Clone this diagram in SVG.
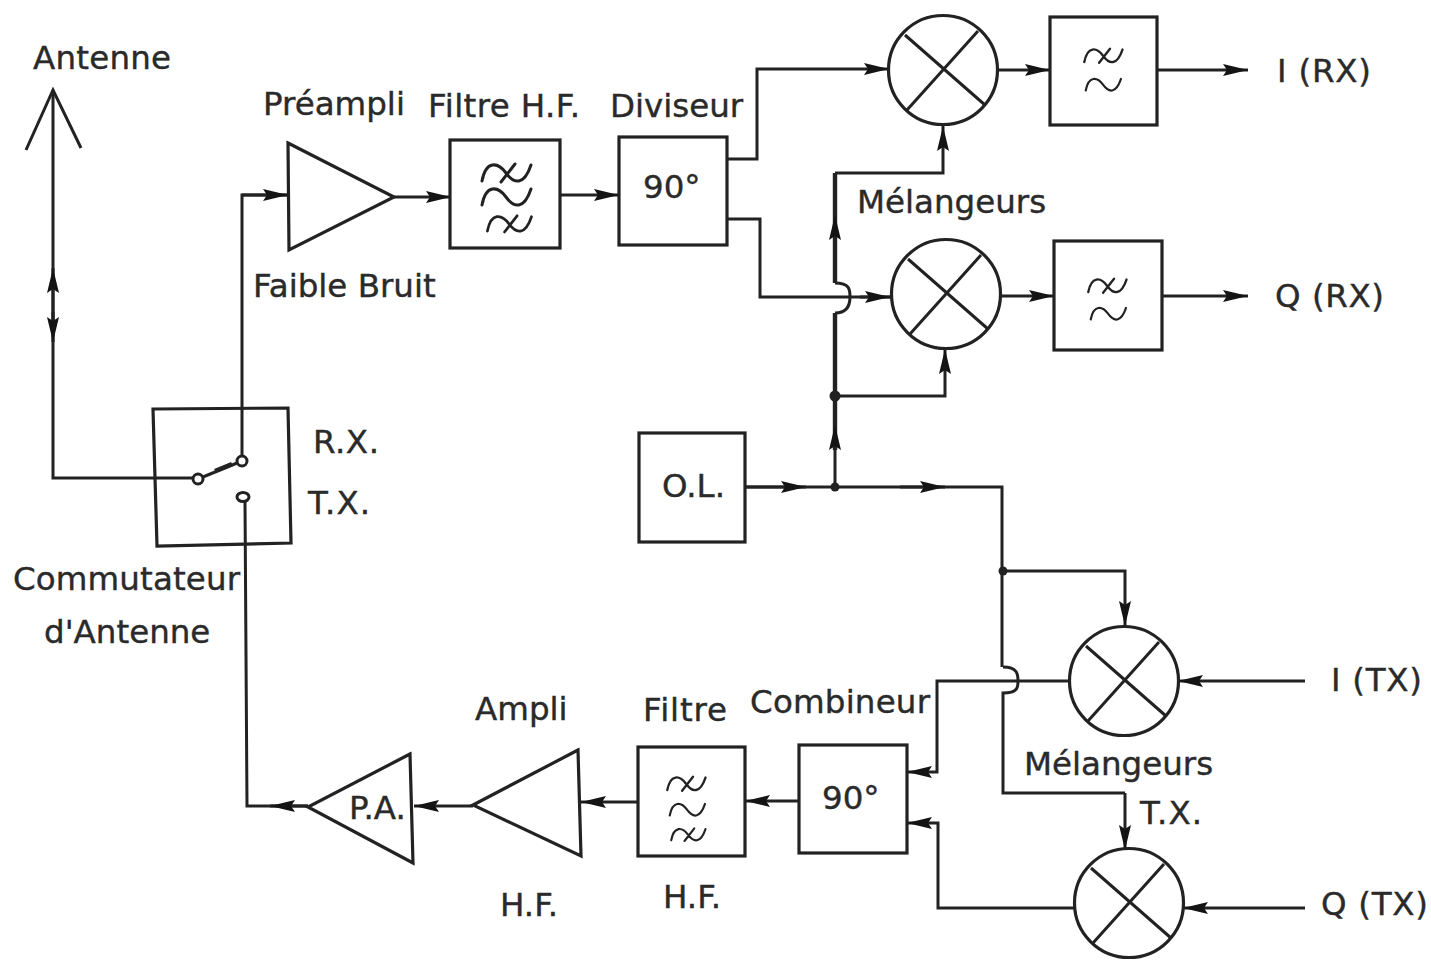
<svg xmlns="http://www.w3.org/2000/svg" width="1431" height="964" viewBox="0 0 1431 964">
<style>
text{font-family:"DejaVu Sans",sans-serif;font-size:32.5px;fill:#2a2a2a;stroke:#2a2a2a;stroke-width:.4px}
.b{fill:#fff;stroke:#222;stroke-width:3.2;stroke-linejoin:miter}
.n{fill:none;stroke:#222;stroke-width:3.2}
.l{fill:none;stroke:#222;stroke-width:3;stroke-linejoin:miter}
.t{stroke-width:4.4}
.a{marker-end:url(#ah)}
.w{fill:none;stroke:#222;stroke-width:3;stroke-linecap:round}
.x{fill:none;stroke:#222;stroke-width:3}
.d{fill:#222}
.c{fill:#fff;stroke:#222;stroke-width:3}
</style>
<defs>
<marker id="ah" markerUnits="userSpaceOnUse" markerWidth="30" markerHeight="18" refX="25" refY="9" orient="auto"><path d="M0 3 L25 9 L0 15 L4 9 Z" fill="#141414"/></marker>
<g id="wv"><path class="w" d="M-24 9 C-20 -12 -8 -10 0 1 S18 14 25 -7"/></g>
<g id="wvs"><path class="w" d="M-24 9 C-20 -12 -8 -10 0 1 S18 14 25 -7 M-5 10 L9 -8"/></g>
<g id="mix"><circle class="b" r="54.5"/><path class="x" d="M-38 -35 L42 35 M-36 40 L35 -39"/></g>
</defs>
<rect width="1431" height="964" fill="#fff"/>

<g id="connectors">
<path class="l" d="M26 150 L53 90 L81 148"/>
<path class="l" d="M53 90 V478 H198"/>
<path class="l a" d="M53 320 V268"/>
<path class="l a" d="M53 312 V342"/>
<path class="l" d="M242 457 V195 H288"/>
<path class="l a" d="M242 195 H288"/>
<path class="l" d="M245 502 L247 806 H308"/>
<path class="l a" d="M308 806 H270"/>
<path class="l a" d="M394 197 H451"/>
<path class="l a" d="M560 195 H619"/>
<path class="l a" d="M727 159 H757 V69 H889"/>
<path class="l" d="M727 219 H760 V297 H892"/>
<path class="l a" d="M860 297 H890"/>
<path class="l a" d="M997 70 H1050"/>
<path class="l a" d="M1157 70 H1248"/>
<path class="l a" d="M1001 296 H1054"/>
<path class="l a" d="M1162 296 H1248"/>
<path class="l" d="M745 487 H1002 V667"/>
<path class="l a" d="M745 487 H806"/>
<path class="l a" d="M900 487 H945"/>
<path class="l" d="M835 487 V400"/>
<path class="l t" d="M835 450 V396 V313"/>
<path class="l" d="M835 313 C850 313 850 300 850 297 C850 290 850 283 835 283"/>
<path class="l t" d="M835 283 V173"/>
<path class="l a" d="M835 450 V425"/>
<path class="l a" d="M835 240 V215"/>
<path class="l a" d="M835 173 H943 V126"/>
<path class="l a" d="M835 396 H945 V349"/>
<circle class="d" cx="835" cy="396" r="5.5"/>
<circle class="d" cx="835" cy="487" r="4.5"/>
<path class="l" d="M1003 667 C1018 667 1018 675 1018 681 C1018 687 1018 693 1003 693 V793 H1125"/>
<path class="l a" d="M1125 793 V850"/>
<circle class="d" cx="1003" cy="571" r="4.5"/>
<path class="l a" d="M1003 571 H1125 V626"/>
<path class="l a" d="M1070 681 H937 V772 H907"/>
<path class="l a" d="M1076 908 H938 V823 H907"/>
<path class="l a" d="M1305 681 H1178"/>
<path class="l a" d="M1305 908 H1183"/>
<path class="l a" d="M799 801 H745"/>
<path class="l a" d="M638 802 H581"/>
<path class="l a" d="M473 806 H414"/>
</g>

<g id="antenna-label"><text x="33" y="69" textLength="138">Antenne</text></g>

<g id="switch">
<path class="n" d="M153 409 L288 408 L291 543 L157 546 Z"/>
<path class="l" d="M198 479 L242 461"/>
<path class="l t" d="M215 471 L232 464"/>
<circle class="c" cx="198" cy="479" r="5"/>
<circle class="c" cx="242" cy="461" r="5"/>
<ellipse class="c" cx="243" cy="497" rx="6" ry="4.5"/>
<text x="313" y="453" textLength="66">R.X.</text>
<text x="308" y="514" textLength="62">T.X.</text>
<text x="13" y="590" textLength="227">Commutateur</text>
<text x="44" y="643">d'Antenne</text>
</g>

<g id="preampli">
<path class="b" d="M288 143 L394 197 L289 250 Z"/>
<text x="263" y="115">Préampli</text>
<text x="253" y="297">Faible Bruit</text>
</g>

<g id="filtre-hf">
<rect class="b" x="450" y="140" width="110" height="108"/>
<use href="#wvs" x="506" y="172"/>
<use href="#wv" x="506" y="196"/>
<use href="#wvs" transform="translate(509 223) scale(.9)"/>
<text x="428" y="117" textLength="152">Filtre H.F.</text>
</g>

<g id="diviseur">
<rect class="b" x="619" y="137" width="108" height="108"/>
<text x="643" y="198">90°</text>
<text x="610" y="117">Diviseur</text>
</g>

<g id="mel-i-rx"><use href="#mix" x="943" y="70"/></g>
<g id="mel-q-rx"><use href="#mix" x="946" y="294"/><text x="857" y="213">Mélangeurs</text></g>

<g id="filtre-i-rx">
<rect class="b" x="1050" y="17" width="107" height="108"/>
<use href="#wvs" transform="translate(1103 55) scale(.78)"/>
<use href="#wv" transform="translate(1103 84) scale(.72)"/>
<text x="1277" y="82" textLength="94">I (RX)</text>
</g>
<g id="filtre-q-rx">
<rect class="b" x="1054" y="241" width="108" height="109"/>
<use href="#wvs" transform="translate(1107 285) scale(.78)"/>
<use href="#wv" transform="translate(1108 313) scale(.72)"/>
<text x="1275" y="307" textLength="109">Q (RX)</text>
</g>

<g id="ol">
<rect class="b" x="639" y="433" width="106" height="109"/>
<text x="662" y="497">O.L.</text>
</g>

<g id="mel-i-tx"><use href="#mix" x="1124" y="681"/><text x="1331" y="691" textLength="91">I (TX)</text></g>
<g id="mel-q-tx"><use href="#mix" x="1129" y="903"/><text x="1321" y="915" textLength="107">Q (TX)</text>
<text x="1024" y="775">Mélangeurs</text><text x="1140" y="824" textLength="62">T.X.</text></g>

<g id="combineur">
<rect class="b" x="799" y="745" width="108" height="108"/>
<text x="822" y="809">90°</text>
<text x="750" y="713" textLength="180">Combineur</text>
</g>

<g id="filtre-tx">
<rect class="b" x="638" y="747" width="107" height="109"/>
<use href="#wvs" transform="translate(686 783) scale(.78)"/>
<use href="#wv" transform="translate(687 809) scale(.72)"/>
<use href="#wvs" transform="translate(688 834) scale(.7)"/>
<text x="643" y="721" textLength="84">Filtre</text>
<text x="663" y="908">H.F.</text>
</g>

<g id="ampli">
<path class="b" d="M578 750 L473 805 L581 856 Z"/>
<text x="475" y="720">Ampli</text>
<text x="500" y="916">H.F.</text>
</g>

<g id="pa">
<path class="b" d="M410 754 L308 807 L413 863 Z"/>
<text x="349" y="819">P.A.</text>
</g>
</svg>
